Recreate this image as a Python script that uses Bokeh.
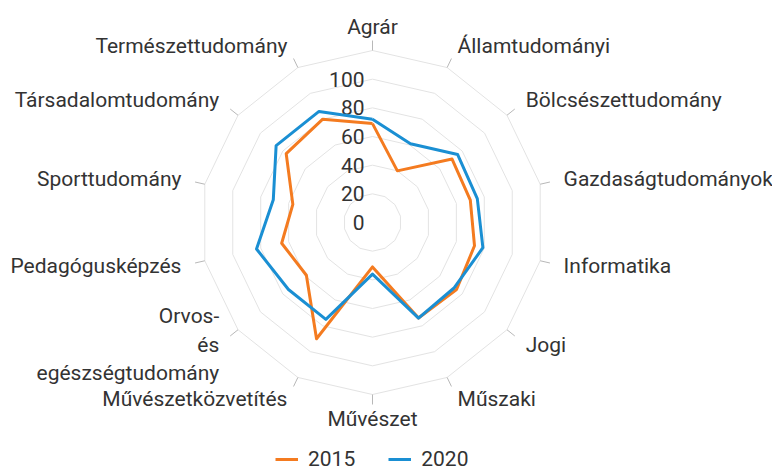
import math
from bokeh.plotting import figure
from bokeh.models import Range1d, Legend, LegendItem
from bokeh.core.properties import value
from bokeh.embed import file_html
from bokeh.resources import INLINE

categories = ["Agrár", "Államtudományi", "Bölcsészettudomány", "Gazdaságtudományok",
              "Informatika", "Jogi", "Műszaki", "Művészet", "Művészetközvetítés",
              "Orvos-\nés\negészségtudomány", "Pedagógusképzés", "Sporttudomány",
              "Társadalomtudomány", "Természettudomány"]
values_2015 = [69, 40, 71, 70, 73, 75, 74, 31, 90, 59, 65, 57, 77, 80]
values_2020 = [72, 61, 76, 75, 79, 73, 74, 36, 75, 75, 83, 71, 86, 86]
radial_ticks = [0, 20, 40, 60, 80, 100]
ring_values = [20, 40, 60, 80, 100, 120]
r_max = 120

FONT = "Roboto"
FS = "21px"
TEXT = "#333333"
ORANGE = "#f47b20"
BLUE = "#1a8fd3"

W, H = 772, 472
cx, cy = 372, 222          # centre in canvas pixels
R_px = 172.0
s = R_px / r_max           # pixels per unit

p = figure(width=W, height=H, output_backend="svg", toolbar_location=None,
           x_axis_type=None, y_axis_type=None, min_border=0,
           x_range=Range1d(-cx / s, (W - cx) / s),
           y_range=Range1d(-(H - cy) / s, cy / s))
p.outline_line_color = None
p.grid.visible = False
p.background_fill_color = "white"
p.border_fill_color = "white"

n = len(categories)
ang = [2 * math.pi * i / n for i in range(n)]
sx = [math.sin(a) for a in ang]
cyv = [math.cos(a) for a in ang]

# polygon grid rings
rx, ry = [], []
for v in ring_values:
    rx.append([v * a for a in sx] + [v * sx[0]])
    ry.append([v * b for b in cyv] + [v * cyv[0]])
p.multi_line(rx, ry, line_color="#e3e3e3", line_width=1)

# tick marks outside outer ring
tick_len = 10 / s
tx = [[r_max * a, (r_max + tick_len) * a] for a in sx]
ty = [[r_max * b, (r_max + tick_len) * b] for b in cyv]
p.multi_line(tx, ty, line_color="#b8b8b8", line_width=1)

# radial value labels
p.text(x=[0] * len(radial_ticks), y=radial_ticks, text=[str(t) for t in radial_ticks],
       x_offset=-8, text_align="right", text_baseline="middle",
       text_font=value(FONT), text_font_size=value(FS), text_color=TEXT)

# category labels
lab_r = r_max + 24 / s
for i, c in enumerate(categories):
    if sx[i] > 0.1:
        al = "left"
    elif sx[i] < -0.1:
        al = "right"
    else:
        al = "center"
    p.text(x=[lab_r * sx[i]], y=[lab_r * cyv[i]], text=[c], text_align=al,
           text_baseline="middle", text_font=value(FONT), text_font_size=value(FS),
           text_color=TEXT, text_line_height=1.2)

def series(vals):
    xs = [v * a for v, a in zip(vals, sx)]
    ys = [v * b for v, b in zip(vals, cyv)]
    return xs + [xs[0]], ys + [ys[0]]

x15, y15 = series(values_2015)
x20, y20 = series(values_2020)
r15 = p.line(x15, y15, line_color=ORANGE, line_width=3, line_join="round")
r20 = p.line(x20, y20, line_color=BLUE, line_width=3, line_join="round")

legend = Legend(items=[LegendItem(label="2015", renderers=[r15]),
                       LegendItem(label="2020", renderers=[r20])],
                orientation="horizontal", location=(275, 1),
                padding=0, margin=0, spacing=33, label_standoff=10,
                glyph_width=23, glyph_height=20, label_height=20,
                border_line_color=None, background_fill_alpha=0,
                label_text_font=FONT, label_text_font_size=FS,
                label_text_color=TEXT)
p.add_layout(legend, "center")

open("out.html", "w").write(file_html(p, INLINE))
